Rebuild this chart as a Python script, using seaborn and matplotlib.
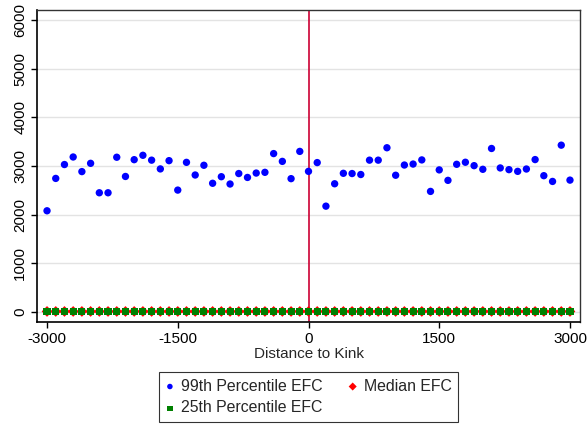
import matplotlib
matplotlib.use("Agg")
import matplotlib.pyplot as plt
import seaborn as sns
import pandas as pd
import numpy as np

sns.set_theme(style="white")
plt.rcParams['font.family'] = ['Liberation Sans', 'DejaVu Sans']

distance = list(range(-3000, 3001, 100))
p99 = [2080, 2745, 3030, 3185, 2885, 3055, 2450, 2450, 3180, 2785,
       3130, 3220, 3120, 2940, 3110, 2505, 3075, 2815, 3015, 2645,
       2780, 2630, 2845, 2765, 2855, 2870, 3255, 3095, 2740, 3300,
       2890, 3070, 2175, 2635, 2850, 2845, 2825, 3120, 3120, 3375,
       2810, 3020, 3040, 3125, 2478, 2920, 2705, 3035, 3077, 3007,
       2932, 3360, 2960, 2925, 2890, 2938, 3132, 2801, 2683, 3428,
       2710]
median = [12, 12, 12, 12, 12, 12, 12, 12, 12, 12,
          12, 12, 12, 12, 12, 12, 12, 12, 12, 12,
          12, 12, 12, 12, 12, 12, 12, 12, 12, 12,
          12, 12, 12, 12, 12, 12, 12, 12, 12, 12,
          12, 12, 12, 12, 12, 12, 12, 12, 12, 12,
          12, 12, 12, 12, 12, 12, 12, 12, 12, 12,
          12]
p25 = [5, 5, 5, 5, 5, 5, 5, 5, 5, 5,
       5, 5, 5, 5, 5, 5, 5, 5, 5, 5,
       5, 5, 5, 5, 5, 5, 5, 5, 5, 5,
       5, 5, 5, 5, 5, 5, 5, 5, 5, 5,
       5, 5, 5, 5, 5, 5, 5, 5, 5, 5,
       5, 5, 5, 5, 5, 5, 5, 5, 5, 5,
       5]
x_ticks = [-3000, -1500, 0, 1500, 3000]
y_ticks = [0, 1000, 2000, 3000, 4000, 5000, 6000]

df = pd.DataFrame({"dist": distance, "p99": p99, "median": median, "p25": p25})

fig = plt.figure(figsize=(5.88, 4.25), dpi=100)
ax = fig.add_axes([37/588, 1-322/425, 543/588, 312/425])

for yt in y_ticks:
    ax.axhline(yt, color='#e3e3e3', lw=1.0, zorder=0)
ax.axvline(0, color='#cc0033', lw=1.2, zorder=1)

sns.scatterplot(data=df, x="dist", y="p99", ax=ax, color='#0000ff', marker='o',
                s=28, edgecolor='none', label='99th Percentile EFC', zorder=3)
sns.scatterplot(data=df, x="dist", y="median", ax=ax, color='#ff0000', marker='D',
                s=30, edgecolor='none', label='Median EFC', zorder=3)
sns.scatterplot(data=df, x="dist", y="p25", ax=ax, color='#008000', marker='s',
                s=26, edgecolor='none', label='25th Percentile EFC', zorder=4)

ax.set_xlim(-3115, 3115)
ax.set_ylim(-205, 6205)
ax.set_xticks(x_ticks)
ax.set_xticklabels([str(v) for v in x_ticks])
ax.set_yticks(y_ticks)
ax.set_yticklabels([str(v) for v in y_ticks], rotation=90, va='center')
ax.tick_params(axis='both', labelsize=11, length=4, width=1, colors='black',
               direction='out', bottom=True, left=True, pad=3)
ax.set_xlabel("Distance to Kink", fontsize=11, labelpad=1)
ax.set_ylabel("")

for side in ['left', 'bottom']:
    ax.spines[side].set_color('black')
    ax.spines[side].set_linewidth(1.2)
for side in ['top', 'right']:
    ax.spines[side].set_color('#333333')
    ax.spines[side].set_linewidth(1.0)

handles, labels = ax.get_legend_handles_labels()
ax.get_legend().remove()
order = [0, 2, 1]
leg = fig.legend([handles[i] for i in order], [labels[i] for i in order],
                 ncol=2, loc='center', bbox_to_anchor=(308.4/588, 1-397.0/425),
                 fontsize=11.4, frameon=True, fancybox=False, edgecolor='black',
                 handlelength=0.6, handletextpad=0.4, columnspacing=1.6,
                 borderpad=0.4, labelspacing=0.42, markerscale=0.75,
                 borderaxespad=0)
leg.get_frame().set_linewidth(0.8)

fig.savefig("out.png", dpi=100)
